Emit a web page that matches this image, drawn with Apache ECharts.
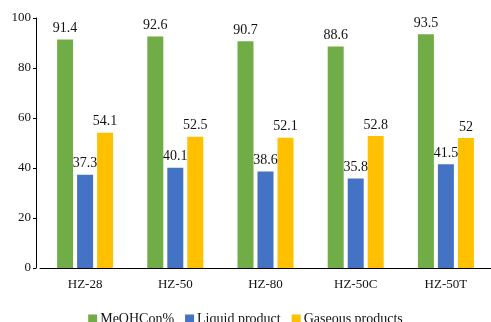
<!DOCTYPE html>
<html><head><meta charset="utf-8">
<script src="https://cdn.jsdelivr.net/npm/echarts@6/dist/echarts.min.js"></script>
<style>html,body{margin:0;padding:0;background:#fff}#c{width:491px;height:322px}</style>
</head><body><div id="c"></div>
<script>
const categories = ['HZ-28','HZ-50','HZ-80','HZ-50C','HZ-50T'];
const meohCon = [91.4, 92.6, 90.7, 88.6, 93.5];
const liquid = [37.3, 40.1, 38.6, 35.8, 41.5];
const gaseous = [54.1, 52.5, 52.1, 52.8, 52];
const seriesNames = ['MeOHCon%','Liquid product','Gaseous products'];
const yTicks = {min:0, max:100, interval:20};

const font = 'Liberation Serif';
const chart = echarts.init(document.getElementById('c'));
const lbl = {show:true, position:'top', distance:4, color:'#111', fontFamily:font, fontSize:14};
chart.setOption({
  animation:false,
  textStyle:{fontFamily:font},
  grid:{left:40, right:-2, top:18, bottom:54, containLabel:false},
  legend:{bottom:-9, left:'center', itemWidth:9, itemHeight:9, itemGap:11, icon:'rect',
    textStyle:{fontFamily:font, fontSize:14, color:'#111', padding:[0,0,0,-2]},
    data:seriesNames},
  xAxis:{type:'category', data:categories,
    axisLine:{lineStyle:{color:'#000', width:1}}, axisTick:{show:false},
    axisLabel:{color:'#111', fontFamily:font, fontSize:13, margin:10}},
  yAxis:{type:'value', min:yTicks.min, max:yTicks.max, interval:yTicks.interval, offset:4,
    splitLine:{show:false},
    axisLine:{show:true, lineStyle:{color:'#000', width:1}},
    axisTick:{show:true, length:3, lineStyle:{color:'#000'}},
    axisLabel:{color:'#111', fontFamily:font, fontSize:13, margin:5}},
  series:[
    {name:seriesNames[0], type:'bar', data:meohCon, barWidth:16, barGap:'25%', itemStyle:{color:'#70AD47'}, label:lbl},
    {name:seriesNames[1], type:'bar', data:liquid, barWidth:16, barGap:'25%', itemStyle:{color:'#4472C4'}, label:lbl},
    {name:seriesNames[2], type:'bar', data:gaseous, barWidth:16, barGap:'25%', itemStyle:{color:'#FFC000'}, label:lbl}
  ]
});
</script></body></html>
